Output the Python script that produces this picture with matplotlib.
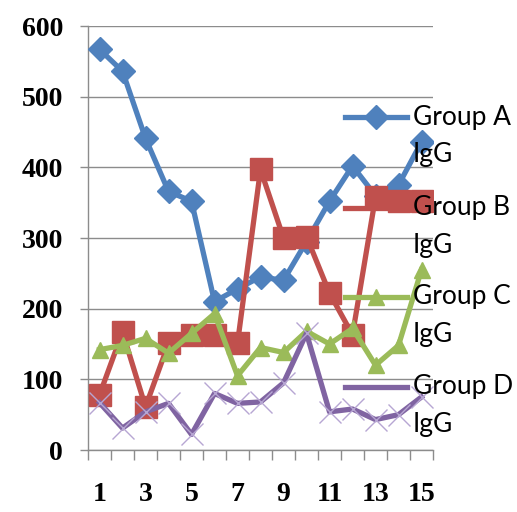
import matplotlib
matplotlib.use("Agg")
import matplotlib.pyplot as plt
from matplotlib.lines import Line2D

# Sample index and IgG levels per group
samples = list(range(1, 16))
group_a = [567, 536, 441, 366, 352, 210, 228, 245, 240, 295, 352, 402, 360, 375, 436]
group_b = [78, 167, 61, 151, 163, 163, 151, 397, 300, 302, 222, 163, 358, 352, 352]
group_c = [142, 148, 158, 137, 165, 193, 105, 145, 138, 168, 150, 172, 120, 148, 255]
group_d = [67, 31, 54, 66, 22, 80, 66, 68, 95, 165, 54, 58, 43, 50, 75]
labels = ["Group A\nIgG", "Group B\nIgG", "Group C\nIgG", "Group D\nIgG"]
x_tick_labels = ["1", "3", "5", "7", "9", "11", "13", "15"]
y_ticks = [0, 100, 200, 300, 400, 500, 600]

blue, red, green, purple = "#4F81BD", "#C0504D", "#9BBB59", "#8064A2"
grid_gray = "#8C8C8C"
lw = 3.8

fig = plt.figure(figsize=(5.17, 5.12), dpi=100)
ax = fig.add_axes([88 / 517, 62 / 512, 345 / 517, 424 / 512])

ax.plot(samples, group_a, color=blue, lw=lw, marker="D", ms=12,
        mfc=blue, mec=blue, zorder=3, solid_joinstyle="round")
ax.plot(samples, group_b, color=red, lw=lw, marker="s", ms=16,
        mfc=red, mec=red, zorder=4, solid_joinstyle="round")
ax.plot(samples, group_c, color=green, lw=lw, marker="^", ms=12,
        mfc=green, mec=green, zorder=5, solid_joinstyle="round")
ax.plot(samples, group_d, color=purple, lw=lw, zorder=6, solid_joinstyle="round")
ax.plot(samples, group_d, ls="none", marker="x", ms=16, mew=1.0,
        mec="#B7A6D3", zorder=6)

ax.set_xlim(0.5, 15.5)
ax.set_ylim(0, 600)
ax.set_yticks(y_ticks)
ax.set_yticklabels([str(v) for v in y_ticks])

# Tick marks sit on category boundaries; labels on every other category
ax.set_xticks([i + 0.5 for i in range(0, 16)])
ax.set_xticklabels([])
odd = [int(t) for t in x_tick_labels]
ax.set_xticks(odd, minor=True)
ax.set_xticklabels(x_tick_labels, minor=True)
ax.tick_params(axis="x", which="major", length=7, width=1, color=grid_gray, direction="out")
ax.tick_params(axis="x", which="minor", length=0, pad=23)
ax.tick_params(axis="y", length=6, width=1, color=grid_gray, pad=12)

for lab in ax.get_xticklabels(minor=True):
    lab.set_fontfamily("Liberation Serif")
    lab.set_fontweight("bold")
    lab.set_fontsize(20)
for lab in ax.get_yticklabels():
    lab.set_fontfamily("Liberation Serif")
    lab.set_fontweight("bold")
    lab.set_fontsize(20)

ax.grid(axis="y", color=grid_gray, lw=1)
ax.set_axisbelow(True)
for side in ("top", "right"):
    ax.spines[side].set_visible(False)
for side in ("left", "bottom"):
    ax.spines[side].set_color(grid_gray)
    ax.spines[side].set_linewidth(1)

# Legend entries on the right, handle beside the first text line
styles = [
    dict(color=blue, marker="D", ms=12),
    dict(color=red, marker=None, ms=0),
    dict(color=green, marker="^", ms=12),
    dict(color=purple, marker=None, ms=0),
]
rows = [0.785, 0.571, 0.361, 0.149]
for lab, st, yr in zip(labels, styles, rows):
    ax.add_line(Line2D([0.745, 0.925], [yr, yr], transform=ax.transAxes,
                       color=st["color"], lw=lw, clip_on=False, zorder=8))
    if st["marker"]:
        ax.add_line(Line2D([0.835], [yr], transform=ax.transAxes, ls="none",
                           marker=st["marker"], ms=st["ms"], mfc=st["color"],
                           mec=st["color"], clip_on=False, zorder=8))
    first, second = lab.split("\n")
    ax.text(0.942, yr, first, transform=ax.transAxes, va="center", ha="left",
            fontsize=19, family="Lato", clip_on=False, zorder=9)
    ax.text(0.942, yr - 0.088, second, transform=ax.transAxes, va="center",
            ha="left", fontsize=19, family="Lato", clip_on=False, zorder=9)

fig.savefig("out.png", dpi=100)
